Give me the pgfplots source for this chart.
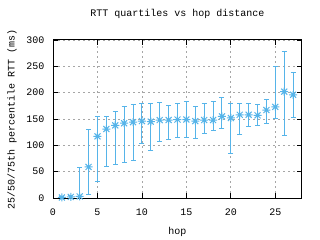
\documentclass[border=0pt]{standalone}
\usepackage{fontspec}
\setmainfont{Liberation Mono}
\usepackage{pgfplots}
\pgfplotsset{compat=1.18}
\usepackage{pgfplotstable}
\definecolor{gpblue}{RGB}{86,180,233}
\pgfdeclareplotmark{gpstar}{%
  \pgfpathmoveto{\pgfqpoint{-\pgfplotmarksize}{0pt}}\pgfpathlineto{\pgfqpoint{\pgfplotmarksize}{0pt}}%
  \pgfpathmoveto{\pgfqpoint{0pt}{-\pgfplotmarksize}}\pgfpathlineto{\pgfqpoint{0pt}{\pgfplotmarksize}}%
  \pgfpathmoveto{\pgfqpoint{-0.75\pgfplotmarksize}{-0.75\pgfplotmarksize}}\pgfpathlineto{\pgfqpoint{0.75\pgfplotmarksize}{0.75\pgfplotmarksize}}%
  \pgfpathmoveto{\pgfqpoint{-0.75\pgfplotmarksize}{0.75\pgfplotmarksize}}\pgfpathlineto{\pgfqpoint{0.75\pgfplotmarksize}{-0.75\pgfplotmarksize}}%
  \pgfusepathqstroke}
\pgfplotstableread{
x y lo hi
1 1 0 2
2 2 0 4
3 3 0 58
4 59 6 130
5 117 31 155
6 131 60 155
7 138 64 164
8 142 68 173
9 144 72 177
10 146 103 179
11 145 91 179
12 148 108 181
13 148 111 175
14 149 115 179
15 149 115 183
16 146 113 173
17 148 123 180
18 148 128 184
19 155 132 190
20 152 85 179
21 158 121 179
22 158 136 179
23 157 138 177
24 167 141 187
25 173 151 250
26 202 119 279
27 196 153 238
}\rtt
\begin{document}
\begin{tikzpicture}[x=1bp,y=1bp]
\path[use as bounding box] (0,0) rectangle (320,240);
\begin{axis}[
  at={(53bp,42bp)}, anchor=south west,
  scale only axis, width=249bp, height=158bp,
  xmin=0, xmax=28, ymin=0, ymax=300,
  xtick={0,5,...,25}, ytick={0,50,...,300},
  tick align=inside, major tick length=5bp,
  axis line style={line width=1bp},
  every tick/.style={black, line width=0.8bp},
  grid=major,
  major grid style={gray!70, dash pattern=on 2bp off 3bp, line width=0.8bp},
  font=\fontsize{10bp}{12bp}\selectfont,
  /pgf/number format/assume math mode=true,
  title={RTT quartiles vs hop distance},
  title style={at={([yshift=20bp]axis description cs:0.5,1)}, anchor=center},
  xlabel={hop},
  xlabel style={at={([yshift=-34bp]axis description cs:0.5,0)}, anchor=center},
  ylabel={25/50/75th percentile RTT (ms)},
  ylabel style={at={([xshift=-41bp]axis description cs:0,0.5)}, anchor=center},
  xticklabel style={anchor=center, yshift=-14bp},
  yticklabel style={anchor=east, xshift=-5bp},
]
\addplot[gpblue, line width=1bp, only marks, mark=gpstar, mark size=4bp,
  error bars/.cd, y dir=both, y explicit,
  error bar style={line width=1bp, gpblue},
  error mark options={rotate=90, mark size=2.5bp, line width=1bp, gpblue}]
  table[x=x, y=y, y error plus expr=\thisrow{hi}-\thisrow{y}, y error minus expr=\thisrow{y}-\thisrow{lo}] {\rtt};
\end{axis}
\end{tikzpicture}
\end{document}
